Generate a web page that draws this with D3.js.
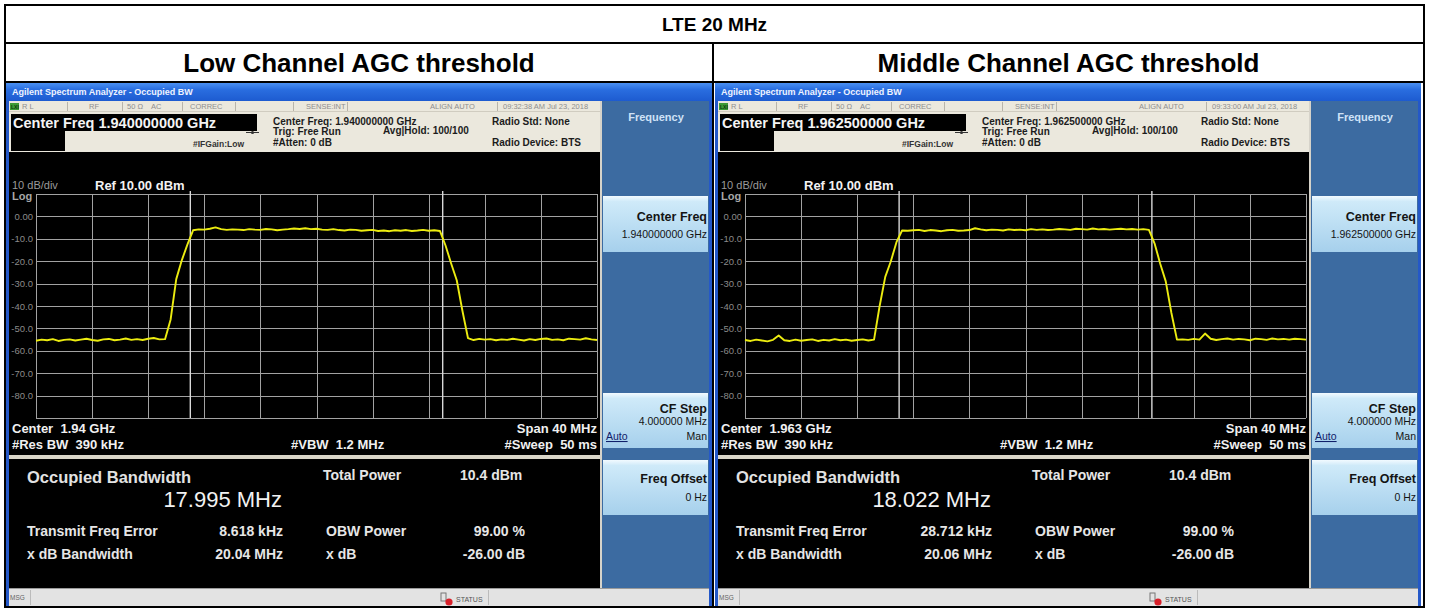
<!DOCTYPE html>
<html><head><meta charset="utf-8">
<script src="https://cdn.jsdelivr.net/npm/d3@7"></script>
<style>
html,body{margin:0;padding:0;background:#fff;}
svg{display:block;font-family:"Liberation Sans",Arial,Helvetica,sans-serif;}
text{white-space:pre;}
</style></head><body>
<svg id="chart" width="1429" height="610"></svg>
<script>
// ---------------- DATA ----------------
const pageTitle = "LTE 20 MHz";
const panelTitles = ["Low Channel AGC threshold", "Middle Channel AGC threshold"];
// frequency offset from centre (MHz), sampling grid of the traces
const freqOffsetsMHz = d3.range(-20, 20.0001, 0.4);
// trace levels (dBm)
const lowTrace = [
  -55.5,-55.0,-55.3,-54.8,-55.6,-55.1,-54.9,-55.4,-55.0,-54.6,
  -55.2,-55.5,-54.9,-54.7,-55.3,-55.0,-54.5,-55.1,-54.8,-55.2,
  -54.6,-54.3,-54.9,-54.8,
  -46,-28,-19.5,-12.5,-6.2,
  -5.8,-5.9,-5.5,-4.9,-5.7,-6.0,-5.8,-5.9,-6.1,-5.7,
  -5.9,-6.0,-5.6,-5.8,-6.2,-5.9,-5.7,-5.4,-5.6,-5.3,
  -5.7,-5.5,-5.9,-6.0,-5.7,-6.1,-6.3,-5.9,-6.0,-6.4,
  -6.2,-6.0,-6.5,-6.3,-6.6,-6.2,-6.4,-6.1,-6.5,-6.3,
  -6.0,-6.4,-6.2,-6.5,
  -13,-21,-28.5,-42,-54.3,
  -55.2,-54.7,-55.0,-54.8,-55.3,-54.9,-55.1,-54.6,-55.0,-55.4,
  -54.8,-55.2,-54.7,-54.5,-55.1,-54.9,-55.3,-54.6,-54.8,-55.0,
  -54.4,-54.9,-55.2
];
const midTrace = [
  -55.2,-55.6,-55.0,-55.4,-55.8,-55.1,-53.2,-55.3,-55.6,-55.0,
  -55.5,-55.2,-54.9,-55.6,-55.1,-55.4,-54.8,-55.3,-55.0,-55.5,
  -55.2,-54.9,-55.4,-55.0,
  -40,-27,-20,-11.5,-6.3,
  -6.4,-6.2,-6.0,-6.5,-6.1,-6.3,-6.6,-6.2,-6.0,-6.4,
  -6.3,-6.1,-5.3,-5.8,-6.2,-5.9,-6.0,-6.3,-5.8,-6.1,
  -5.9,-6.2,-5.7,-6.0,-5.8,-6.1,-5.9,-5.6,-5.8,-6.0,
  -5.5,-5.7,-5.9,-5.4,-5.8,-5.6,-5.9,-5.7,-5.5,-5.8,
  -5.6,-5.9,-5.7,-6.0,
  -12,-21,-29,-43,-55,
  -54.9,-55.1,-54.7,-55.0,-52.3,-54.6,-55.2,-54.8,-54.5,-55.0,
  -54.7,-54.9,-55.3,-54.6,-54.8,-55.1,-54.5,-54.9,-54.7,-55.0,
  -54.6,-54.8,-55.0
];
const traces = [lowTrace, midTrace];
const yGridValues = [10, 0, -10, -20, -30, -40, -50, -60, -70, -80, -90];
const yTickValues = [0, -10, -20, -30, -40, -50, -60, -70, -80];
const yTickLabels = ["0.00", "-10.0", "-20.0", "-30.0", "-40.0", "-50.0", "-60.0", "-70.0", "-80.0"];
const xGridValues = [-20, -16, -12, -8, -4, 0, 4, 8, 12, 16, 20];
const obwMHz = [17.995, 18.022];
const obwLabels = ["17.995 MHz", "18.022 MHz"];
const centerFreqs = ["1.940000000 GHz", "1.962500000 GHz"];
const centerShort = ["1.94 GHz", "1.963 GHz"];
const timestamps = ["09:32:38 AM Jul 23, 2018", "09:33:00 AM Jul 23, 2018"];
const freqErrors = ["8.618 kHz", "28.712 kHz"];
const xdbBandwidths = ["20.04 MHz", "20.06 MHz"];
const totalPower = "10.4 dBm";
const obwPower = "99.00 %";
const xdbValue = "-26.00 dB";

// ---------------- DRAW ----------------
const svg = d3.select("#chart");
const defs = svg.append("defs");
const tb = defs.append("linearGradient").attr("id","tb").attr("x1",0).attr("y1",0).attr("x2",0).attr("y2",1);
tb.append("stop").attr("offset","0%").attr("stop-color","#4a90f2");
tb.append("stop").attr("offset","35%").attr("stop-color","#2a6ee0");
tb.append("stop").attr("offset","100%").attr("stop-color","#1d5bd0");
const sk = defs.append("linearGradient").attr("id","sk").attr("x1",0).attr("y1",0).attr("x2",0).attr("y2",1);
sk.append("stop").attr("offset","0%").attr("stop-color","#f2faff");
sk.append("stop").attr("offset","10%").attr("stop-color","#cfeaf9");
sk.append("stop").attr("offset","100%").attr("stop-color","#a6d0ec");

svg.append("rect").attr("width",1429).attr("height",610).attr("fill","#fff");

function txt(g, x, y, s, o = {}) {
  return g.append("text").attr("x", x).attr("y", y).text(s)
    .attr("font-size", o.size || 10)
    .attr("font-weight", o.bold ? "bold" : "normal")
    .attr("fill", o.fill || "#000")
    .attr("text-anchor", o.anchor || "start")
    .attr("text-decoration", o.underline ? "underline" : null);
}

function drawPanel(p, ox) {
  const g = svg.append("g").attr("transform", `translate(${ox},0)`);
  // window frame
  g.append("rect").attr("x",6).attr("y",83).attr("width",706).attr("height",524).attr("fill","#2458c8");
  g.append("rect").attr("x",6).attr("y",83).attr("width",706).attr("height",18).attr("fill","url(#tb)");
  txt(g, 12, 95, "Agilent Spectrum Analyzer - Occupied BW", {size: 9, bold: true, fill: "#eef3ff"});
  // client
  g.append("rect").attr("x",9).attr("y",101).attr("width",700).attr("height",505).attr("fill","#d6d3ca");
  // status + header
  g.append("rect").attr("x",9).attr("y",101).attr("width",591).attr("height",51).attr("fill","#ebe8dd");
  g.append("line").attr("x1",9).attr("x2",600).attr("y1",111.5).attr("y2",111.5).attr("stroke","#d0ccc0");
  g.append("rect").attr("x",10).attr("y",103).attr("width",9).attr("height",7).attr("fill","#3d9b35");
  txt(g, 11, 109, "LXI", {size: 5, bold: true, fill: "#0c3a0c"});
  const statusItems = [["R L",22],["RF",89],["50 Ω",127],["AC",151],["CORREC",190],["SENSE:INT",306],["ALIGN AUTO",430],[timestamps[p],503]];
  statusItems.forEach(d => txt(g, d[1], 109, d[0], {size: 7.5, fill: "#8e8e8e"}));
  [67,122,182,235,293,347,497].forEach(x => g.append("line").attr("x1",x+0.5).attr("x2",x+0.5).attr("y1",102).attr("y2",111).attr("stroke","#b8b4aa"));
  g.append("rect").attr("x",11).attr("y",114).attr("width",246).attr("height",17).attr("fill","#000");
  g.append("rect").attr("x",11).attr("y",131).attr("width",54).attr("height",20).attr("fill","#000");
  txt(g, 13, 128, "Center Freq " + centerFreqs[p], {size: 14.5, bold: true, fill: "#f4f4f4"});
  const hd = {size: 10, bold: true, fill: "#1c1c1c"};
  txt(g, 273, 125, "Center Freq: " + centerFreqs[p], hd);
  txt(g, 273, 135, "Trig: Free Run", hd);
  txt(g, 273, 146, "#Atten: 0 dB", hd);
  txt(g, 383, 134, "Avg|Hold: 100/100", hd);
  txt(g, 492, 125, "Radio Std: None", hd);
  txt(g, 492, 146, "Radio Device: BTS", hd);
  txt(g, 193, 147, "#IFGain:Low", {size: 8.5, bold: true, fill: "#333"});
  g.append("line").attr("x1",246).attr("x2",259).attr("y1",132.5).attr("y2",132.5).attr("stroke","#333");
  g.append("circle").attr("cx",252.5).attr("cy",132.5).attr("r",1.6).attr("fill","#333");

  // softkey panel
  g.append("rect").attr("x",602).attr("y",101).attr("width",107).attr("height",487).attr("fill","#3c6ba1");
  txt(g, 656, 121, "Frequency", {size: 11, bold: true, fill: "#cfe2f7", anchor: "middle"});
  [[196,56],[393,55],[460,55]].forEach(b => g.append("rect").attr("x",603).attr("y",b[0]).attr("width",105).attr("height",b[1]).attr("fill","url(#sk)"));
  const skB = {size: 12.5, bold: true, fill: "#141414", anchor: "end"};
  const skS = {size: 10.5, fill: "#141414", anchor: "end"};
  txt(g, 707, 221, "Center Freq", skB);
  txt(g, 707, 238, centerFreqs[p], skS);
  txt(g, 707, 413, "CF Step", skB);
  txt(g, 707, 425, "4.000000 MHz", skS);
  txt(g, 606, 440, "Auto", {size: 10.5, fill: "#10206a", underline: true});
  txt(g, 707, 440, "Man", skS);
  txt(g, 707, 483, "Freq Offset", skB);
  txt(g, 707, 501, "0 Hz", skS);

  // spectrum area
  g.append("rect").attr("x",9).attr("y",152).attr("width",591).attr("height",303).attr("fill","#000");
  g.append("rect").attr("x",9).attr("y",455).attr("width",591).attr("height",4).attr("fill","#d9d5c8");
  g.append("rect").attr("x",9).attr("y",459).attr("width",591).attr("height",129).attr("fill","#000");

  const x = d3.scaleLinear().domain([-20, 20]).range([36, 597]);
  const y = d3.scaleLinear().domain([-90, 10]).range([418, 194]);

  const gy = g.append("g").attr("transform", "translate(36,0)")
    .call(d3.axisLeft(y).tickValues(yGridValues).tickSize(-(597 - 36)).tickFormat(""));
  gy.select(".domain").remove();
  gy.selectAll("line").attr("stroke","#a2a2a2").attr("shape-rendering","crispEdges");
  const gx = g.append("g").attr("transform", "translate(0,418)")
    .call(d3.axisBottom(x).tickValues(xGridValues).tickSize(-(418 - 194)).tickFormat(""));
  gx.select(".domain").remove();
  gx.selectAll("line").attr("stroke","#a2a2a2").attr("shape-rendering","crispEdges");

  const gl = g.append("g").attr("transform", "translate(33,0)")
    .call(d3.axisLeft(y).tickValues(yTickValues).tickSize(0).tickPadding(0).tickFormat((d, i) => yTickLabels[i]));
  gl.select(".domain").remove();
  gl.selectAll("text").attr("fill","#8a8a8a").attr("font-size",9.5).attr("font-family","Liberation Sans, Arial, sans-serif");

  // OBW markers
  [-obwMHz[p] / 2, obwMHz[p] / 2].forEach(f => {
    g.append("line").attr("x1", x(f)).attr("x2", x(f)).attr("y1", 191).attr("y2", 418)
      .attr("stroke", "#d8d8d8").attr("stroke-width", 1.4);
  });

  // trace
  const line = d3.line().x((d, i) => x(freqOffsetsMHz[i])).y(d => y(d));
  g.append("path").datum(traces[p]).attr("d", line).attr("fill","none")
    .attr("stroke","#ecec10").attr("stroke-width",1.9).attr("stroke-linejoin","round");

  txt(g, 12, 189, "10 dB/div", {size: 11, fill: "#9a9a9a"});
  txt(g, 12, 200, "Log", {size: 11, bold: true, fill: "#a8a8a8"});
  txt(g, 95, 190, "Ref 10.00 dBm", {size: 13, bold: true, fill: "#f2f2f2"});
  const bl = {size: 13, bold: true, fill: "#f0f0f0"};
  txt(g, 12, 433, "Center  " + centerShort[p], bl);
  txt(g, 12, 449, "#Res BW  390 kHz", bl);
  txt(g, 291, 449, "#VBW  1.2 MHz", bl);
  txt(g, 597, 433, "Span 40 MHz", Object.assign({anchor: "end"}, bl));
  txt(g, 597, 449, "#Sweep  50 ms", Object.assign({anchor: "end"}, bl));

  // results
  const rs = {size: 14, bold: true, fill: "#e6e6e6"};
  txt(g, 27, 483, "Occupied Bandwidth", {size: 16.5, bold: true, fill: "#e2e2e2"});
  txt(g, 282, 507, obwLabels[p], {size: 22, fill: "#f2f2f2", anchor: "end"});
  txt(g, 27, 536, "Transmit Freq Error", rs);
  txt(g, 283, 536, freqErrors[p], Object.assign({anchor: "end"}, rs));
  txt(g, 27, 559, "x dB Bandwidth", rs);
  txt(g, 283, 559, xdbBandwidths[p], Object.assign({anchor: "end"}, rs));
  txt(g, 323, 480, "Total Power", rs);
  txt(g, 460, 480, totalPower, rs);
  txt(g, 326, 536, "OBW Power", rs);
  txt(g, 525, 536, obwPower, Object.assign({anchor: "end"}, rs));
  txt(g, 326, 559, "x dB", rs);
  txt(g, 525, 559, xdbValue, Object.assign({anchor: "end"}, rs));

  // message / status bar
  g.append("rect").attr("x",9).attr("y",589).attr("width",700).attr("height",17).attr("fill","#e3e3e3");
  g.append("line").attr("x1",9).attr("x2",709).attr("y1",588.5).attr("y2",588.5).attr("stroke","#9a9a9a");
  txt(g, 10, 600, "MSG", {size: 6.5, fill: "#666"});
  g.append("line").attr("x1",30.5).attr("x2",30.5).attr("y1",590).attr("y2",605).attr("stroke","#bbb");
  g.append("rect").attr("x",441).attr("y",593).attr("width",5).attr("height",8).attr("fill","none").attr("stroke","#777");
  g.append("circle").attr("cx",449).attr("cy",602).attr("r",3.6).attr("fill","#d8202a");
  txt(g, 456, 602, "STATUS", {size: 7, fill: "#555"});
  g.append("line").attr("x1",488.5).attr("x2",488.5).attr("y1",590).attr("y2",605).attr("stroke","#bbb");
}

drawPanel(0, 0);
drawPanel(1, 709);

// table frame and titles
const T = svg.append("g");
T.append("rect").attr("x",5).attr("y",5).attr("width",1419).attr("height",602)
  .attr("fill","none").attr("stroke","#000").attr("stroke-width",2);
T.append("line").attr("x1",5).attr("x2",1424).attr("y1",43).attr("y2",43).attr("stroke","#000").attr("stroke-width",2);
T.append("line").attr("x1",5).attr("x2",1424).attr("y1",82).attr("y2",82).attr("stroke","#000").attr("stroke-width",2);
T.append("line").attr("x1",713).attr("x2",713).attr("y1",43).attr("y2",607).attr("stroke","#000").attr("stroke-width",2);
txt(T, 714.5, 31, pageTitle, {size: 19, bold: true, anchor: "middle"});
txt(T, 359, 72, panelTitles[0], {size: 26, bold: true, anchor: "middle"});
txt(T, 1068.5, 72, panelTitles[1], {size: 26, bold: true, anchor: "middle"});
</script>
</body></html>
